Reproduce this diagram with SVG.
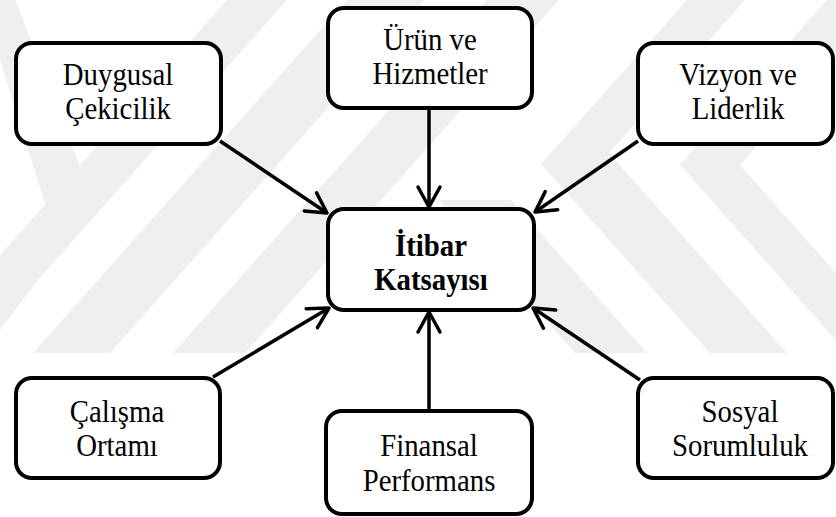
<svg xmlns="http://www.w3.org/2000/svg" width="836" height="517" viewBox="0 0 836 517">
  <style>
    .wm { fill: #efefef; stroke: none; }
    .box { fill: #ffffff; stroke: #000000; stroke-width: 4; }
    .lbl { font-family: "Liberation Serif", "Times New Roman", serif; font-size: 32px; fill: #000000; text-anchor: middle; }
    .bold { font-weight: bold; }
    .edge { fill: none; stroke: #000000; stroke-width: 3.5; }
  </style>
  <defs>
    <marker id="arr" markerUnits="userSpaceOnUse" viewBox="-25 -15 30 30" refX="0" refY="0" markerWidth="30" markerHeight="30" orient="auto" overflow="visible">
      <path d="M-20,-11 L0,0 L-20,11" fill="none" stroke="#000000" stroke-width="3.5" stroke-linecap="round" stroke-linejoin="round"/>
    </marker>
  </defs>
  <rect x="0" y="0" width="836" height="517" fill="#ffffff"/>
  <g id="watermark">
    <polygon class="wm" points="0,-40 95,205 0,330 0,265 47,210 0,60"/>
    <polygon class="wm" points="227,0 287,0 -27,353 -87,353"/>
    <polygon class="wm" points="347,0 424,0 110,353 33,353"/>
    <polygon class="wm" points="487,0 559,0 245,353 173,353"/>
    <polygon class="wm" points="687,0 541,164 710,353 787,353 609,153 745,0"/>
    <polygon class="wm" points="439,200 511,200 647,353 575,353"/>
    <polygon class="wm" points="827,0 680,165 847,353 907,353 740,165 887,0"/>
  </g>
  <g id="connectors">
    <line class="edge" x1="220" y1="141" x2="327" y2="213" marker-end="url(#arr)"/>
    <line class="edge" x1="429" y1="110" x2="429" y2="207" marker-end="url(#arr)"/>
    <line class="edge" x1="638" y1="141" x2="535" y2="212" marker-end="url(#arr)"/>
    <line class="edge" x1="213" y1="377" x2="329" y2="308" marker-end="url(#arr)"/>
    <line class="edge" x1="429" y1="409" x2="429" y2="312" marker-end="url(#arr)"/>
    <line class="edge" x1="640" y1="380" x2="533" y2="308" marker-end="url(#arr)"/>
  </g>
  <g id="node-duygusal">
    <rect class="box" x="16" y="43" width="205" height="101" rx="16"/>
    <text class="lbl" transform="translate(118 0) scale(0.9 1)" x="0" y="85">Duygusal</text>
    <text class="lbl" transform="translate(118 0) scale(0.9 1)" x="0" y="119">Çekicilik</text>
  </g>
  <g id="node-urun">
    <rect class="box" x="328" y="8" width="204" height="100" rx="16"/>
    <text class="lbl" transform="translate(430 0) scale(0.9 1)" x="0" y="50">Ürün ve</text>
    <text class="lbl" transform="translate(430 0) scale(0.9 1)" x="0" y="84">Hizmetler</text>
  </g>
  <g id="node-vizyon">
    <rect class="box" x="638" y="43" width="195" height="101" rx="16"/>
    <text class="lbl" transform="translate(738 0) scale(0.9 1)" x="0" y="85">Vizyon ve</text>
    <text class="lbl" transform="translate(738 0) scale(0.9 1)" x="0" y="119">Liderlik</text>
  </g>
  <g id="node-itibar">
    <rect class="box" x="328" y="209" width="206" height="101" rx="16"/>
    <text class="lbl bold" transform="translate(431 0) scale(0.9 1)" x="0" y="256">İtibar</text>
    <text class="lbl bold" transform="translate(431 0) scale(0.9 1)" x="0" y="290">Katsayısı</text>
  </g>
  <g id="node-calisma">
    <rect class="box" x="16" y="378" width="204" height="100" rx="16"/>
    <text class="lbl" transform="translate(117 0) scale(0.9 1)" x="0" y="422">Çalışma</text>
    <text class="lbl" transform="translate(117 0) scale(0.9 1)" x="0" y="456">Ortamı</text>
  </g>
  <g id="node-finansal">
    <rect class="box" x="326" y="411" width="206" height="103" rx="16"/>
    <text class="lbl" transform="translate(429 0) scale(0.9 1)" x="0" y="456">Finansal</text>
    <text class="lbl" transform="translate(429 0) scale(0.9 1)" x="0" y="491">Performans</text>
  </g>
  <g id="node-sosyal">
    <rect class="box" x="638" y="378" width="195" height="100" rx="16"/>
    <text class="lbl" transform="translate(740 0) scale(0.9 1)" x="0" y="422">Sosyal</text>
    <text class="lbl" transform="translate(740 0) scale(0.9 1)" x="0" y="456">Sorumluluk</text>
  </g>
</svg>
